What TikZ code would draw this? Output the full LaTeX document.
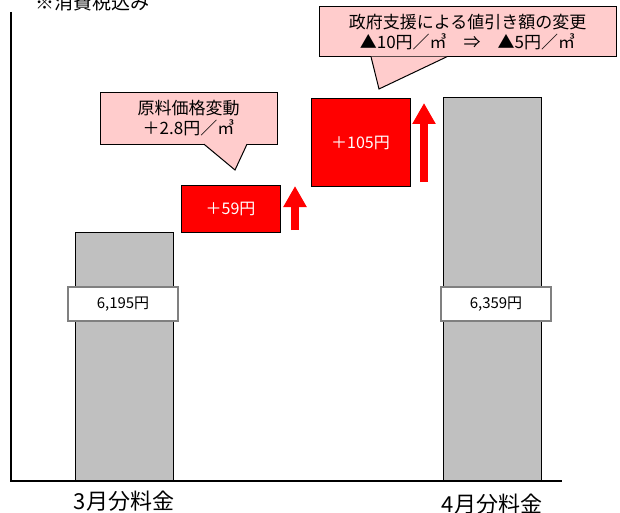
\documentclass[tikz,border=0pt]{standalone}
\usepackage{fontspec}
\setmainfont{Noto Sans CJK JP}
\usetikzlibrary{positioning,calc,arrows.meta}
\definecolor{barGray}{HTML}{C0C0C0}
\definecolor{notePink}{HTML}{FFCCCC}

\begin{document}
\begin{tikzpicture}[x=1pt,y=-1pt,
    barnode/.style={draw, fill=barGray, line width=1pt, minimum width=98pt, inner sep=0pt, anchor=south},
    pricenode/.style={draw=gray, fill=white, line width=1.2pt, minimum width=110pt, minimum height=34pt, font=\fontsize{15}{18}\selectfont},
    risenode/.style={draw, fill=red, text=white, line width=1pt, minimum width=99pt, font=\fontsize{16}{19}\selectfont},
    notenode/.style={draw, fill=notePink, line width=1pt, align=center, inner sep=0pt, font=\fontsize{17}{20}\selectfont},
    uparrow/.style={red, line width=8pt, -{Triangle[width=22pt,length=21pt]}}]
            \useasboundingbox (0,0) rectangle (620,513);
            %Bars
            \node[barnode, minimum height=248pt] (marchbar) at (124,481) {};
            \node[barnode, minimum height=383pt] (aprilbar) at (492,481) {};
            %Axes
            \coordinate (origin) at (11,481);
            \coordinate (ytop) at (11,12);
            \coordinate (xend) at (562,481);
            \draw[line width=1.2pt] (ytop) -- (origin) -- (xend);
            %Nodes
            \node[pricenode] (marchprice) at (123,304) {6,195円};
            \node[pricenode] (aprilprice) at (496,304) {6,359円};
            \node[risenode, minimum height=47pt] (rise59) at (230.5,208.5) {＋59円};
            \node[risenode, minimum height=87pt] (rise105) at (360.5,142.5) {＋105円};
            \node[font=\fontsize{19}{22}\selectfont] (taxnote) at (92,2) {※消費税込み};
            \node[font=\fontsize{22}{26}\selectfont] (marchlabel) at (124,501) {3月分料金};
            \node[font=\fontsize{22}{26}\selectfont] (aprillabel) at (492,504) {4月分料金};
            %Arrows
            \coordinate (risefootA) at (295,230);
            \coordinate (risetipA) at (295,186);
            \coordinate (risefootB) at (424,182);
            \coordinate (risetipB) at (424,103);
            \draw[uparrow] (risefootA) -- (risetipA);
            \draw[uparrow] (risefootB) -- (risetipB);
            %Callouts
            \node[notenode, minimum width=177pt, minimum height=52pt] (materialnote) at (188.5,118.5) {原料価格変動\\＋2.8円／㎥};
            \coordinate (materialtip) at (235,170);
            \filldraw[fill=notePink, line width=1pt] ($(materialnote.south)+(15.5,-0.8)$) -- (materialtip) -- ($(materialnote.south)+(58.5,-0.8)$);
            \node[notenode, minimum width=297pt, minimum height=50pt] (supportnote) at (467.5,32) {政府支援による値引き額の変更\\▲10円／㎥　⇒　▲5円／㎥};
            \coordinate (supporttip) at (379,89);
            \filldraw[fill=notePink, line width=1pt] ($(supportnote.south)+(-96.5,-0.8)$) -- (supporttip) -- ($(supportnote.south)+(-20.5,-0.8)$);
        \end{tikzpicture}
\end{document}
